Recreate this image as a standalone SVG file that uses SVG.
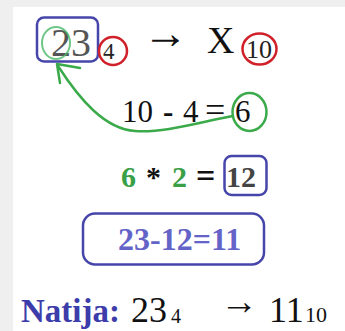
<svg xmlns="http://www.w3.org/2000/svg" width="345" height="331" viewBox="0 0 345 331">
<style>
.serif{font-family:"Liberation Serif","Times New Roman",serif}
.b{font-weight:bold}
.blue{fill:none;stroke:#4646aa;stroke-width:2.5}
.red{fill:none;stroke:#d0202a;stroke-width:2.5}
.green{fill:none;stroke:#3aaa4a;stroke-width:2.5;stroke-linecap:round;stroke-linejoin:round}
</style>
<rect x="0" y="0" width="345" height="331" fill="#ffffff"/>
<rect x="0" y="0" width="345" height="7" fill="#efefef"/>
<rect x="0" y="0" width="13" height="331" fill="#efefef"/>

<g id="n-23">
<rect class="blue" x="37" y="17.5" width="61" height="44" rx="7"/>
<text class="serif" x="51" y="56" font-size="40" fill="#555555">23</text>
<ellipse cx="56" cy="43" rx="14" ry="16" fill="none" stroke="#4cb868" stroke-width="2" opacity="0.8"/>
</g>
<g id="n-base4">
<circle class="red" cx="113" cy="51" r="14"/>
<text class="serif" x="103" y="59" font-size="23" fill="#222">4</text>
</g>
<g id="n-arrow-top">
<text class="serif" x="143" y="48" font-size="45" fill="#111">→</text>
</g>
<g id="n-X">
<text class="serif" x="207" y="53" font-size="38" fill="#111">X</text>
</g>
<g id="n-base10">
<ellipse class="red" cx="259.5" cy="49" rx="17" ry="15.5"/>
<text class="serif" x="246" y="58" font-size="26" fill="#222">10</text>
</g>
<g id="n-eq1">
<text class="serif" y="122" font-size="31" fill="#111"><tspan x="122">10</tspan><tspan x="163" font-weight="bold">-</tspan><tspan x="183">4</tspan><tspan x="205" font-size="36">=</tspan><tspan x="235">6</tspan></text>
<ellipse class="green" cx="249.5" cy="112" rx="17" ry="19"/>
</g>
<g id="n-eq2">
<text class="serif b" y="187" font-size="30"><tspan x="121" fill="#3aa048">6</tspan><tspan x="146" fill="#111">*</tspan><tspan x="172" fill="#3aa048">2</tspan><tspan x="196" fill="#111" font-size="34">=</tspan></text>
<rect class="blue" x="224.5" y="156" width="42" height="39" rx="7"/>
<text class="serif b" x="226" y="187" font-size="30" fill="#444">12</text>
</g>
<g id="n-eq3">
<rect class="blue" x="83" y="213.5" width="181" height="51" rx="12"/>
<text class="serif b" x="118" y="250" font-size="32" fill="#6464c8">23-12=11</text>
</g>
<g id="n-result">
<text class="serif b" x="21" y="322" font-size="33" fill="#3c3caa">Natija:</text>
<text class="serif" x="131" y="322" font-size="36" fill="#111">23</text>
<text class="serif" x="171" y="323" font-size="20" fill="#111">4</text>
<text class="serif" x="220" y="314" font-size="38" fill="#111">→</text>
<text class="serif" x="269" y="322" font-size="36" fill="#111">11</text>
<text class="serif" x="305" y="322" font-size="22" fill="#111">10</text>
</g>
<g id="connectors">
<path class="green" d="M233,116 C200,122 165,133 135,131 C105,129 80,100 58,66"/>
<path class="green" d="M80,68 L57,64 L60,83"/>
</g>
</svg>
